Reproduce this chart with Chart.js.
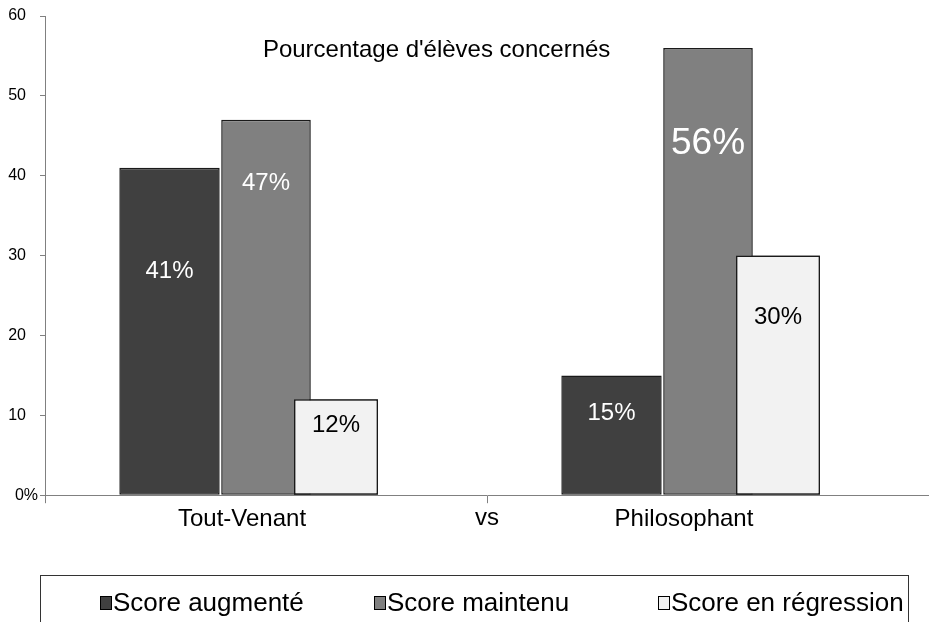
<!DOCTYPE html>
<html>
<head>
<meta charset="utf-8">
<script src="https://cdn.jsdelivr.net/npm/chart.js@4.4.1/dist/chart.umd.min.js"></script>
<style>
    body { margin: 0; background: #fff; }
    #wrap { width: 929px; height: 622px; }
</style>
</head>
<body>
<div id="wrap"><canvas id="graphique" width="929" height="622"></canvas></div>
<script>
// données
const groupes = ['Tout-Venant', 'Philosophant'];
const scoreAugmente = [41, 15];
const scoreMaintenu = [47, 56];
const scoreRegression = [12, 30];
const graduations = [0, 10, 20, 30, 40, 50, 60];

const POLICE = '"Liberation Sans", Arial, sans-serif';

// étiquettes "xx%" posées dans les barres (hauteur en unités de l'axe)
const etiquettesBarres = {
    id: 'etiquettesBarres',
    afterDatasetsDraw(chart, args, opts) {
        const ctx = chart.ctx;
        const y = chart.scales.y;
        // la série claire passe devant la série grise, comme dans l'original
        chart.getDatasetMeta(2).data.forEach(bar => bar.draw(ctx));
        ctx.save();
        ctx.textAlign = 'center';
        ctx.textBaseline = 'middle';
        chart.data.datasets.forEach((ds, i) => {
            chart.getDatasetMeta(i).data.forEach((bar, j) => {
                const taille = (opts.tailles[i] && opts.tailles[i][j]) || 24;
                ctx.font = `${taille}px ${POLICE}`;
                ctx.fillStyle = opts.couleurs[i];
                ctx.fillText(ds.data[j] + '%', bar.x, y.getPixelForValue(opts.ancres[i][j]));
            });
        });
        ctx.restore();
    }
};

// titre dans la zone du graphique, "vs" entre les groupes, "0%", légende encadrée
const decor = {
    id: 'decor',
    afterDraw(chart) {
        const ctx = chart.ctx;
        const a = chart.chartArea;
        const x = chart.scales.x;
        const y = chart.scales.y;
        ctx.save();
        ctx.fillStyle = '#000';
        ctx.textBaseline = 'middle';
        ctx.textAlign = 'center';
        ctx.font = `24px ${POLICE}`;
        ctx.fillText("Pourcentage d'élèves concernés", a.left + (a.right - a.left) * 0.443, a.top + 34);

        const milieu = (x.getPixelForValue(0) + x.getPixelForValue(1)) / 2;
        ctx.fillText('vs', milieu, a.bottom + 23);

        ctx.textAlign = 'right';
        ctx.font = `16px ${POLICE}`;
        ctx.fillText('0%', a.left - 7, y.getPixelForValue(0));

        // légende
        ctx.strokeStyle = '#333';
        ctx.lineWidth = 1;
        ctx.strokeRect(40.5, 575.5, 868, 80);
        const positions = [100, 374, 658];
        ctx.textAlign = 'left';
        ctx.font = `26px ${POLICE}`;
        chart.data.datasets.forEach((ds, i) => {
            const px = positions[i];
            ctx.fillStyle = ds.backgroundColor;
            ctx.fillRect(px, 596, 12, 14);
            ctx.strokeStyle = '#000';
            ctx.strokeRect(px + 0.5, 596.5, 11, 13);
            ctx.fillStyle = '#000';
            ctx.fillText(ds.label, px + 13, 604);
        });
        ctx.restore();
    }
};

new Chart(document.getElementById('graphique'), {
    type: 'bar',
    data: {
        labels: groupes,
        datasets: [
            // les barres du graphique d'origine ne sont pas centrées sur la catégorie :
            // largeur de groupe propre à chaque série pour les décaler
            { label: 'Score augmenté', data: scoreAugmente, backgroundColor: '#404040',
              categoryPercentage: 0.655, barPercentage: 1.04 },
            { label: 'Score maintenu', data: scoreMaintenu, backgroundColor: '#808080',
              categoryPercentage: 0.563, barPercentage: 1.08 },
            { label: 'Score en régression', data: scoreRegression, backgroundColor: '#f2f2f2',
              categoryPercentage: 0.475, barPercentage: 1.2 }
        ]
    },
    options: {
        responsive: false,
        animation: false,
        layout: { padding: { left: 0, top: 16, right: 0, bottom: 86 } },
        datasets: {
            bar: {
                borderColor: '#1a1a1a',
                borderWidth: 1.5,
                borderSkipped: false
            }
        },
        plugins: {
            legend: { display: false },
            tooltip: { enabled: false },
            etiquettesBarres: {
                ancres: [[28, 10.3], [39, 44], [8.8, 22.3]],
                couleurs: ['#fff', '#fff', '#000'],
                tailles: [[24, 24], [24, 37], [24, 24]]
            }
        },
        scales: {
            x: {
                grid: {
                    offset: true,
                    drawOnChartArea: false,
                    tickLength: 8,
                    color: '#808080'
                },
                border: { color: '#808080', width: 1 },
                ticks: {
                    color: '#000',
                    font: { family: POLICE, size: 24 },
                    labelOffset: -24,
                    padding: 2,
                    maxRotation: 0
                }
            },
            y: {
                min: 0,
                max: 60,
                afterBuildTicks: (axe) => { axe.ticks = graduations.map(v => ({ value: v })); },
                afterFit: (axe) => { axe.width = 45; axe.paddingTop = 0; axe.paddingBottom = 0; },
                grid: {
                    drawOnChartArea: false,
                    tickLength: 5,
                    color: '#808080'
                },
                border: { color: '#808080', width: 1 },
                ticks: {
                    color: '#000',
                    font: { family: POLICE, size: 16 },
                    padding: 14,
                    callback: (v) => v === 0 ? '' : v
                }
            }
        }
    },
    plugins: [etiquettesBarres, decor]
});
</script>
</body>
</html>
